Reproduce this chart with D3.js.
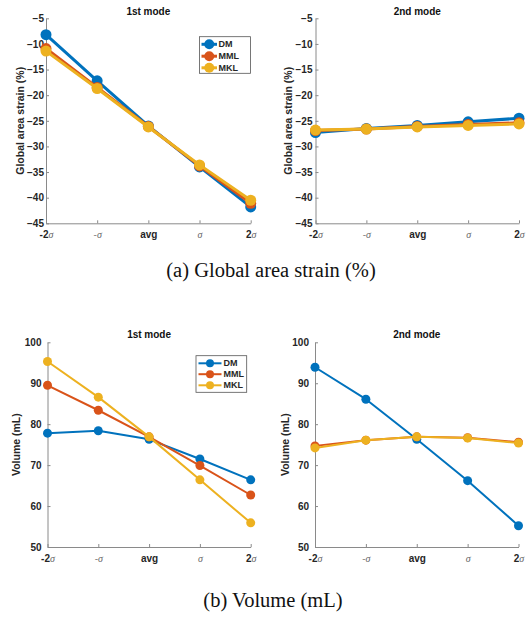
<!DOCTYPE html>
<html>
<head>
<meta charset="utf-8">
<script src="https://cdn.jsdelivr.net/npm/d3@7"></script>
<style>
  body { margin: 0; background: #fff; }
  svg { display: block; }
</style>
</head>
<body>
<div id="chart"></div>
<script>
// x categories, series names
const categories = ["-2σ", "-σ", "avg", "σ", "2σ"];
const seriesNames = ["DM", "MML", "MKL"];
const colors = ["#0072BD", "#D95319", "#EDB120"];

// global area strain (%) - 1st mode
const strain1DM  = [-8.2, -17.2, -26.0, -34.0, -41.8];
const strain1MML = [-10.9, -18.5, -26.1, -33.8, -41.1];
const strain1MKL = [-11.4, -18.7, -26.2, -33.6, -40.5];

// global area strain (%) - 2nd mode
const strain2DM  = [-27.3, -26.5, -25.9, -25.2, -24.5];
const strain2MML = [-26.9, -26.6, -26.1, -25.7, -25.4];
const strain2MKL = [-26.8, -26.6, -26.2, -25.9, -25.6];

// volume (mL) - 1st mode
const volume1DM  = [77.8, 78.4, 76.3, 71.5, 66.4];
const volume1MML = [89.5, 83.4, 76.9, 69.9, 62.7];
const volume1MKL = [95.3, 86.6, 76.9, 66.4, 55.9];

// volume (mL) - 2nd mode
const volume2DM  = [93.9, 86.1, 76.3, 66.2, 55.2];
const volume2MML = [74.7, 76.1, 76.9, 76.7, 75.6];
const volume2MKL = [74.2, 76.1, 76.9, 76.6, 75.4];

const strainTicks = [-45, -40, -35, -30, -25, -20, -15, -10, -5];
const volumeTicks = [50, 60, 70, 80, 90, 100];

let width = 529,
    height = 617,
    sansFont = "Liberation Sans, Arial, sans-serif",
    serifFont = "Liberation Serif, Times New Roman, serif";

let svg = d3.select("#chart")
    .append("svg")
    .attr("width", width)
    .attr("height", height);

svg.append("rect").attr("width", width).attr("height", height).attr("fill", "#fff");

// panel layout
let panels = [
    {title: "1st mode", ylabel: "Global area strain (%)", data: [strain1DM, strain1MML, strain1MKL],
     domain: [-45, -5], ticks: strainTicks, x0: 46, x1: 250.7, y0: 223.3, y1: 18.3,
     titleY: 14.5, labelX: 20.7, lw: 3, mr: 5.5, ypad: 2,
     legend: {x: 199.5, y: 36.7, w: 51, h: 36.6, rows: [44.3, 56.2, 67.8], l0: 201.5, l1: 217, t: 218.5}},
    {title: "2nd mode", ylabel: "Global area strain (%)", data: [strain2DM, strain2MML, strain2MKL],
     domain: [-45, -5], ticks: strainTicks, x0: 315.5, x1: 519, y0: 223.3, y1: 18.3,
     titleY: 14.5, labelX: 288, lw: 3, mr: 5.5, ypad: 3},
    {title: "1st mode", ylabel: "Volume (mL)", data: [volume1DM, volume1MML, volume1MKL],
     domain: [50, 100], ticks: volumeTicks, x0: 47.5, x1: 250.7, y0: 547, y1: 342.3,
     titleY: 337.5, labelX: 16.7, lw: 2, mr: 4.5, ypad: 6,
     legend: {x: 196, y: 355.7, w: 50.7, h: 36.6, rows: [363.3, 374.2, 385.3], l0: 198.5, l1: 221.5, t: 223.5}},
    {title: "2nd mode", ylabel: "Volume (mL)", data: [volume2DM, volume2MML, volume2MKL],
     domain: [50, 100], ticks: volumeTicks, x0: 315, x1: 518.5, y0: 547, y1: 342.3,
     titleY: 337.5, labelX: 285.7, lw: 2, mr: 4.5, ypad: 6},
];

panels.forEach(drawPanel);

// captions
svg.append("text")
    .attr("x", 271).attr("y", 277)
    .attr("text-anchor", "middle")
    .attr("font-family", serifFont)
    .attr("font-size", 20.5)
    .attr("fill", "#111")
    .text("(a) Global area strain (%)");

svg.append("text")
    .attr("x", 273).attr("y", 607)
    .attr("text-anchor", "middle")
    .attr("font-family", serifFont)
    .attr("font-size", 20.5)
    .attr("fill", "#111")
    .text("(b) Volume (mL)");


function drawPanel(p) {
    let x = d3.scalePoint().domain(categories).range([p.x0, p.x1]).padding(0);
    let y = d3.scaleLinear().domain(p.domain).range([p.y0, p.y1]);
    let g = svg.append("g");

    // x axis, ticks pointing inward
    let xAxis = g.append("g")
        .attr("transform", `translate(0,${p.y0})`)
        .call(d3.axisBottom(x).tickSizeInner(-3).tickSizeOuter(0).tickPadding(8));
    styleAxis(xAxis);
    xAxis.selectAll(".tick text").each(function(d) {
        let t = d3.select(this).text("");
        if (!d.includes("σ")) {
            t.text(d);
            return;
        }
        let prefix = d.split("σ")[0];
        if (prefix !== "") {
            // "-2" is bold black, a lone "-" is light grey
            let digit = /\d/.test(prefix);
            t.append("tspan")
                .attr("fill", digit ? "#262626" : "#888")
                .attr("font-weight", digit ? "bold" : "normal")
                .text(prefix);
        }
        t.append("tspan")
            .attr("font-family", serifFont)
            .attr("font-style", "italic")
            .attr("font-weight", "normal")
            .attr("fill", "#666")
            .text("σ");
    });

    // y axis
    let yAxis = g.append("g")
        .attr("transform", `translate(${p.x0},0)`)
        .call(d3.axisLeft(y).tickValues(p.ticks).tickSizeInner(-3).tickSizeOuter(0).tickPadding(p.ypad));
    styleAxis(yAxis);

    // title
    g.append("text")
        .attr("x", (p.x0 + p.x1) / 2).attr("y", p.titleY)
        .attr("text-anchor", "middle")
        .attr("font-family", sansFont)
        .attr("font-weight", "bold").attr("font-size", 10)
        .attr("fill", "#111")
        .text(p.title);

    // y label
    g.append("text")
        .attr("transform", `translate(${p.labelX},${(p.y0 + p.y1) / 2}) rotate(-90)`)
        .attr("text-anchor", "middle")
        .attr("dy", "0.35em")
        .attr("font-family", sansFont)
        .attr("font-weight", "bold").attr("font-size", 10.5)
        .attr("fill", "#262626")
        .text(p.ylabel);

    // series lines + markers
    let line = d3.line().x((d, i) => x(categories[i])).y(d => y(d));
    p.data.forEach(function(values, s) {
        g.append("path")
            .datum(values)
            .attr("d", line)
            .attr("fill", "none")
            .attr("stroke", colors[s])
            .attr("stroke-width", p.lw)
            .attr("stroke-linejoin", "round");
        g.selectAll(null)
            .data(values)
            .join("circle")
            .attr("cx", (d, i) => x(categories[i]))
            .attr("cy", d => y(d))
            .attr("r", p.mr)
            .attr("fill", colors[s]);
    });

    // legend
    if (p.legend) {
        let L = p.legend;
        let lg = g.append("g");
        lg.append("rect")
            .attr("x", L.x).attr("y", L.y)
            .attr("width", L.w).attr("height", L.h)
            .attr("fill", "#fff")
            .attr("stroke", "#555").attr("stroke-width", 0.8);
        seriesNames.forEach(function(name, s) {
            lg.append("line")
                .attr("x1", L.l0).attr("x2", L.l1)
                .attr("y1", L.rows[s]).attr("y2", L.rows[s])
                .attr("stroke", colors[s]).attr("stroke-width", p.lw);
            lg.append("circle")
                .attr("cx", (L.l0 + L.l1) / 2).attr("cy", L.rows[s])
                .attr("r", p.mr - 0.5)
                .attr("fill", colors[s]);
            lg.append("text")
                .attr("x", L.t).attr("y", L.rows[s])
                .attr("dy", "0.35em")
                .attr("font-family", sansFont)
                .attr("font-weight", "bold").attr("font-size", 9)
                .attr("fill", "#262626")
                .text(name);
        });
    }
}


function styleAxis(a) {
    a.attr("font-family", sansFont)
        .attr("font-size", 10)
        .attr("font-weight", "bold");
    a.select(".domain").attr("stroke", "#8a8a8a").attr("stroke-width", 1);
    a.selectAll(".tick line").attr("stroke", "#8a8a8a");
    a.selectAll(".tick text").attr("fill", "#262626");
}
</script>
</body>
</html>
